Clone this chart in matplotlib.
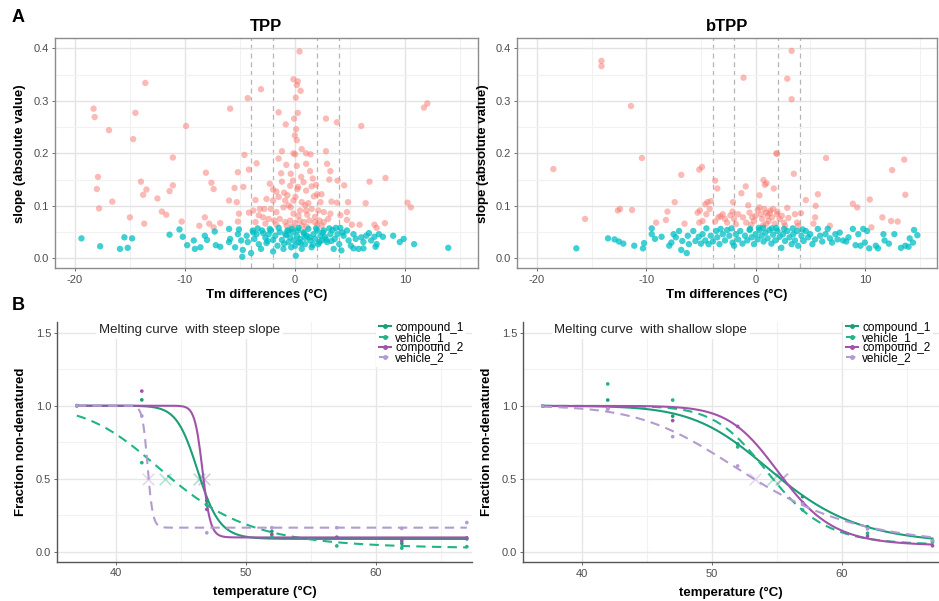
import numpy as np
import matplotlib.pyplot as plt
from matplotlib.lines import Line2D

plt.rcParams['font.family'] = ['Liberation Sans', 'DejaVu Sans']
plt.rcParams['axes.unicode_minus'] = False

# ---------------- Panel A: Tm difference vs |slope| ----------------
# TPP, slope above cutoff (red)
tpp_hi_x = [-18.3, -18.2, -17.9, -18.0, -17.8, -16.9, -16.6, -15.0, -14.7, -14.5, -14.0, -13.8, -13.6,
            -13.5, -13.7, -12.5, -12.1, -11.7, -11.4, -11.1, -11.1, -10.3, -9.9, -8.7, -8.1, -8.2, -7.8,
            -7.6, -7.4, -7.4, -6.8, -5.9, -6.0, -5.5, -5.3, -5.2, -5.1, -5.2, -4.6, -4.7, -4.3, -4.2, -4.2,
            -3.6, -3.5, -3.1, -3.8, -3.2,
            0.4, -0.15, 0.24, 0.15, 0.5, 0.06, 0.24, -0.09, -1.5, -0.85, 0.09, -0.03, 0.15, 0.6, 0.0, -0.15,
            1.0, 1.4, -1.2, -1.5, -0.8, 0.15, 1.0, 1.36, -1.27, -0.4, -1.2, -0.2, 0.55, -0.45, 0.27, 0.76,
            1.5, 1.9, 1.0, -2.3, -2.0, -1.7, -1.5, -0.7, 0.03, 0.6, 1.2, 2.0, 2.3, -2.6, -2.8, -2.2, -1.7,
            -1.06, -0.4, -0.15, 0.45, 1.0, 1.5, 2.1, 2.6, -3.3, -2.9, -2.4, -1.9, -1.4, -0.9, -0.45, 0.0,
            0.4, 0.8, 1.3, 1.76, 2.2, 2.6, 3.0, -3.6, -2.7, -1.7, -0.76, -0.3, 0.6, 1.06, 2.0, 2.4, 2.4,
            1.7, -0.15, -0.9, -2.0, 0.3, -0.6, 1.1, 1.8, 0.9, -1.0, 0.2, 1.6,
            2.8, 2.8, 2.9, 3.2, 3.1, 3.85, 3.8, 4.45, 3.3, 3.8, 4.8, 3.2, 4.1, 4.7, 4.7, 5.15, 5.85, 6.0,
            6.4, 6.75, 7.2, 7.4, 8.2, 8.15, 10.2, 10.5, 11.7, 12.0]
tpp_hi_y = [0.285, 0.269, 0.155, 0.132, 0.095, 0.244, 0.108, 0.078, 0.227, 0.277, 0.146, 0.121, 0.334,
            0.131, 0.066, 0.114, 0.089, 0.083, 0.128, 0.139, 0.192, 0.070, 0.252, 0.062, 0.163, 0.078, 0.066,
            0.144, 0.132, 0.059, 0.067, 0.285, 0.110, 0.134, 0.107, 0.164, 0.085, 0.070, 0.197, 0.136, 0.305,
            0.169, 0.087, 0.111, 0.181, 0.322, 0.091, 0.094,
            0.394, 0.341, 0.337, 0.330, 0.319, 0.306, 0.277, 0.266, 0.278, 0.255, 0.246, 0.234, 0.225, 0.208,
            0.198, 0.200, 0.200, 0.198, 0.204, 0.190, 0.178, 0.176, 0.180, 0.166, 0.162, 0.161, 0.146, 0.148,
            0.155, 0.138, 0.136, 0.145, 0.137, 0.140, 0.129, 0.142, 0.131, 0.127, 0.117, 0.120, 0.117, 0.107,
            0.105, 0.122, 0.107, 0.113, 0.094, 0.094, 0.088, 0.097, 0.097, 0.085, 0.091, 0.091, 0.094, 0.091,
            0.088, 0.082, 0.078, 0.075, 0.072, 0.075, 0.069, 0.072, 0.067, 0.072, 0.069, 0.072, 0.069, 0.072,
            0.069, 0.075, 0.069, 0.066, 0.064, 0.062, 0.060, 0.062, 0.060, 0.064, 0.062, 0.122, 0.118, 0.110,
            0.110, 0.110, 0.081, 0.101, 0.083, 0.079, 0.101, 0.125, 0.132, 0.152,
            0.266, 0.204, 0.180, 0.166, 0.150, 0.148, 0.259, 0.139, 0.108, 0.106, 0.107, 0.085, 0.082, 0.088,
            0.073, 0.064, 0.064, 0.252, 0.105, 0.146, 0.064, 0.058, 0.153, 0.067, 0.106, 0.097, 0.287, 0.295]
# TPP, slope below cutoff (teal)
tpp_lo_x = [-19.4, -17.7, -15.9, -15.5, -15.2, -14.8, -11.4, -10.5, -10.2, -9.8, -9.2, -9.1, -8.6, -8.2,
            -8.0, -7.3, -7.2, -6.8, -6.0, -6.0, -5.9, -5.45, -5.2, -5.1, -4.9, -4.8, -4.75, -4.4, -4.3, -4.0,
            -3.85, -3.7, -3.5, -3.3, -3.1, -3.0, -2.7, -2.6, -2.4, -2.2, -2.0, -2.0, -1.8, -1.6, -1.4, -1.2,
            -1.06, -0.9, -0.7, -0.6, -0.45, -0.36, -0.2, -0.1, 0.0, 0.06, 0.15, 0.24, 0.33, 0.45, 0.6, 0.76,
            0.9, 1.06, 1.2, 1.36, 1.5, 1.67, 1.8, 2.0, 2.1, 2.3, 2.4, 2.6, 2.7, 2.9, 3.2, 3.4, 3.5, 3.6, 3.85,
            4.0, 4.2, 4.4, 4.7, 4.85, 5.06, 5.3, 5.5, 5.76, 6.0, 6.2, 6.45, 6.7, 6.9, 7.2, 7.4, 7.6, 7.3, 6.2,
            5.3, 7.97, 8.9, 9.5, 9.85, 10.8, 13.9,
            -3.4, -2.9, -2.3, -1.5, -0.8, -0.3, 0.3, 0.8, 1.3, 1.9, 2.5, 3.1, 3.7, 4.3, -2.5, -1.0, 0.5, 1.6,
            2.8, 4.1, -3.8, -0.6, 0.9, 2.2, 3.3]
tpp_lo_y = [0.038, 0.023, 0.018, 0.040, 0.020, 0.038, 0.045, 0.055, 0.041, 0.025, 0.034, 0.018, 0.021,
            0.043, 0.035, 0.051, 0.025, 0.022, 0.056, 0.031, 0.037, 0.021, 0.046, 0.055, 0.034, 0.003, 0.016,
            0.043, 0.031, 0.010, 0.053, 0.037, 0.046, 0.027, 0.018, 0.053, 0.039, 0.029, 0.046, 0.053, 0.035,
            0.013, 0.043, 0.024, 0.050, 0.035, 0.018, 0.046, 0.053, 0.031, 0.040, 0.021, 0.050, 0.034, 0.024,
            0.005, 0.043, 0.053, 0.031, 0.037, 0.018, 0.050, 0.027, 0.043, 0.056, 0.034, 0.021, 0.046, 0.037,
            0.053, 0.027, 0.043, 0.034, 0.053, 0.041, 0.031, 0.046, 0.054, 0.018, 0.037, 0.046, 0.027, 0.015,
            0.043, 0.053, 0.034, 0.024, 0.046, 0.037, 0.018, 0.040, 0.031, 0.043, 0.048, 0.034, 0.041, 0.027,
            0.046, 0.022, 0.019, 0.019, 0.041, 0.043, 0.031, 0.037, 0.027, 0.020,
            0.057, 0.048, 0.056, 0.058, 0.044, 0.056, 0.058, 0.047, 0.040, 0.057, 0.049, 0.057, 0.058, 0.049,
            0.033, 0.028, 0.029, 0.026, 0.036, 0.058, 0.049, 0.052, 0.039, 0.031, 0.033]

# bTPP, slope above cutoff (red)
btpp_hi_x = [-18.5, -15.6, -14.1, -14.1, -11.4, -10.4, -12.6, -12.4, -11.3, -9.1, -8.2, -8.06, -7.4, -6.8,
             -6.5, -5.15, -4.9, -5.3, -5.1, -4.85, -4.6, -4.4, -4.2, -4.1, -4.5, -5.15, -3.7, -3.5, -3.7,
             -3.4, -3.0, -2.8, -2.6, -2.06, -2.1, -1.97, -1.6, -1.3, -1.1, -1.15, -0.9, -0.67, -0.85, -0.55,
             -0.3, -0.15, 0.0, 0.2, 0.36, 0.36, 0.5, 0.6, 0.73, 0.85, 1.0, 0.8, 0.97, 1.1, 1.2, 1.36, 1.5,
             1.67, 1.6, 1.76, 1.9, 1.97, 1.97, 2.2, 2.4, 2.6, 2.9, 2.9, 3.0, 3.3, 3.3, 3.5, 3.6, 3.8, 4.15,
             4.6, 5.3, 5.5, 5.7, 5.45, 6.45, 6.8, 8.9, 9.3, 10.45, 10.6, 11.6, 12.4, 12.5, 13.0, 13.6, 13.7,
             -2.3, -1.8, -0.4, 0.7, 1.3, 2.7, 3.9, -3.2, 1.0, 2.0]
btpp_hi_y = [0.170, 0.075, 0.376, 0.366, 0.290, 0.191, 0.091, 0.094, 0.092, 0.068, 0.073, 0.089, 0.107,
             0.159, 0.066, 0.169, 0.174, 0.087, 0.091, 0.071, 0.103, 0.107, 0.094, 0.109, 0.084, 0.068, 0.148,
             0.133, 0.070, 0.078, 0.084, 0.075, 0.068, 0.107, 0.089, 0.075, 0.084, 0.124, 0.344, 0.078, 0.137,
             0.101, 0.068, 0.087, 0.078, 0.071, 0.081, 0.092, 0.120, 0.097, 0.084, 0.075, 0.149, 0.140, 0.143,
             0.094, 0.087, 0.081, 0.071, 0.091, 0.078, 0.133, 0.094, 0.066, 0.200, 0.199, 0.084, 0.075, 0.081,
             0.068, 0.096, 0.342, 0.077, 0.303, 0.395, 0.161, 0.084, 0.068, 0.086, 0.111, 0.066, 0.100, 0.122,
             0.078, 0.191, 0.062, 0.104, 0.097, 0.112, 0.059, 0.078, 0.071, 0.168, 0.070, 0.188, 0.121,
             0.082, 0.065, 0.064, 0.063, 0.086, 0.062, 0.062, 0.080, 0.066, 0.089]
# bTPP, slope below cutoff (teal)
btpp_lo_x = [-16.4, -13.5, -12.9, -12.5, -12.1, -11.1, -10.2, -10.3, -9.5, -9.5, -9.2, -8.6, -7.9, -7.7,
             -7.5, -7.3, -7.0, -6.8, -6.7, -6.3, -6.2, -6.1, -5.7, -5.5, -5.2, -5.0, -4.85, -4.6, -4.5, -4.3,
             -4.1, -3.9, -3.6, -3.5, -3.3, -3.0, -2.8, -2.6, -2.4, -2.1, -1.97, -1.8, -1.6, -1.4, -1.2, -0.97,
             -0.76, -0.55, -0.36, -0.15, 0.0, 0.18, 0.36, 0.55, 0.73, 0.9, 1.1, 1.27, 1.45, 1.6, 1.8, 2.0, 2.2,
             2.36, 2.5, 2.7, 2.9, 3.1, 3.3, 3.45, 3.6, 3.8, 3.9, 4.2, 4.4, 4.6, 4.8, 5.0, 5.2, 5.45, 5.7, 5.9,
             6.1, 6.4, 6.6, 6.8, 7.0, 7.3, 7.5, 7.7, 8.0, 8.3, 8.5, 8.9, 9.15, 9.4, 9.6, 9.85, 10.0, 10.2, 10.4,
             11.0, 11.2, 11.7, 11.8, 12.2, 12.7, 13.3, 13.7, 14.0, 14.1, 14.4, 14.5, 14.8,
             -2.2, -0.5, 0.7, 1.5, 2.6, 3.4, 4.3, -3.2, 0.3, 1.9]
btpp_lo_y = [0.019, 0.038, 0.036, 0.032, 0.028, 0.024, 0.029, 0.019, 0.057, 0.046, 0.037, 0.041, 0.024,
             0.030, 0.046, 0.040, 0.052, 0.016, 0.033, 0.010, 0.043, 0.027, 0.052, 0.033, 0.041, 0.028, 0.046,
             0.034, 0.057, 0.027, 0.043, 0.032, 0.052, 0.040, 0.027, 0.046, 0.034, 0.054, 0.043, 0.030, 0.024,
             0.046, 0.036, 0.052, 0.028, 0.043, 0.034, 0.054, 0.040, 0.027, 0.046, 0.036, 0.054, 0.043, 0.032,
             0.049, 0.038, 0.054, 0.028, 0.045, 0.034, 0.052, 0.041, 0.020, 0.046, 0.033, 0.052, 0.040, 0.027,
             0.046, 0.034, 0.052, 0.024, 0.043, 0.033, 0.052, 0.040, 0.046, 0.027, 0.036, 0.056, 0.043, 0.032,
             0.046, 0.056, 0.038, 0.030, 0.046, 0.036, 0.049, 0.034, 0.032, 0.040, 0.056, 0.025, 0.046, 0.024,
             0.056, 0.030, 0.052, 0.019, 0.024, 0.019, 0.046, 0.034, 0.028, 0.046, 0.020, 0.024, 0.022, 0.038,
             0.030, 0.054, 0.044,
             0.057, 0.056, 0.058, 0.057, 0.056, 0.057, 0.055, 0.056, 0.058, 0.058]

tpp_cutoffs = [-4.05, -2.05, 1.95, 4.0]
btpp_cutoffs = [-3.9, -1.95, 2.05, 4.1]

# ---------------- Panel B: melting curves ----------------
temps = [37, 42, 47, 52, 57, 62, 67]
series_names = ['compound_1', 'vehicle_1', 'compound_2', 'vehicle_2']

steep_compound_1 = [1.0, 1.04, 0.35, 0.14, 0.10, 0.057, 0.088]
steep_vehicle_1 = [1.0, 0.61, 0.32, 0.105, 0.04, 0.025, 0.035]
steep_compound_2 = [1.0, 1.10, 0.29, 0.12, 0.095, 0.075, 0.095]
steep_vehicle_2 = [1.0, 0.93, 0.13, 0.165, 0.165, 0.16, 0.20]

shallow_compound_1 = [1.0, 1.04, 0.93, 0.74, 0.38, 0.175, 0.08]
shallow_vehicle_1 = [1.0, 1.15, 1.04, 0.72, 0.29, 0.13, 0.07]
shallow_compound_2 = [1.0, 0.98, 0.90, 0.86, 0.34, 0.11, 0.045]
shallow_vehicle_2 = [1.0, 0.98, 0.79, 0.59, 0.33, 0.16, 0.08]

# fitted melting curve parameters: inflection temp, slope, lower plateau
steep_fit_mid = [46.34, 44.15, 46.68, 42.45]
steep_fit_slope = [1.2, 0.305, 3.3, 5.0]
steep_fit_plateau = [0.088, 0.02, 0.098, 0.165]
steep_tm = [46.4, 43.8, 46.8, 42.45]

shallow_fit_mid = [55.0, 54.5, 55.35, 53.0]
shallow_fit_slope = [0.307, 0.46, 0.49, 0.227]
shallow_fit_plateau = [0.05, 0.05, 0.045, 0.03]
shallow_tm = [55.35, 54.74, 55.45, 53.33]

colors = ['#1b9e77', '#22b386', '#a352ab', '#b49ad2']
styles = ['-', (0, (4.5, 3)), '-', (0, (4.5, 3))]

W, H = 939, 601
fig = plt.figure(figsize=(W / 100, H / 100), dpi=100)


def add_ax(l, r, t, b):
    return fig.add_axes([l / W, 1 - b / H, (r - l) / W, (b - t) / H])


def scatter_panel(ax, hx, hy, lx, ly, cuts, title):
    ax.set_xlim(-21.8, 16.6)
    ax.set_ylim(-0.019, 0.419)
    ax.set_xticks([-20, -10, 0, 10])
    ax.set_xticks([-15, -5, 5, 15], minor=True)
    ax.set_yticks([0.0, 0.1, 0.2, 0.3, 0.4])
    ax.set_yticks([0.05, 0.15, 0.25, 0.35], minor=True)
    ax.grid(True, which='major', color='#e3e3e3', lw=1.0, zorder=0)
    ax.grid(True, which='minor', color='#f1f1f1', lw=0.8, zorder=0)
    for c in cuts:
        ax.axvline(c, color='#b5b5b5', ls=(0, (4, 3)), lw=0.9, zorder=1)
    ax.scatter(hx, hy, s=21, color='#F8766D', alpha=0.5, edgecolors='none', zorder=2)
    ax.scatter(lx, ly, s=21, color='#00BFC4', alpha=0.75, edgecolors='none', zorder=3)
    for sp in ax.spines.values():
        sp.set_color('#8c8c8c')
        sp.set_linewidth(1.0)
    ax.tick_params(which='major', length=2.5, width=0.6, color='#555555', labelsize=8,
                   labelcolor='#4d4d4d', pad=2)
    ax.tick_params(which='minor', length=0)
    ax.set_yticklabels(['0.0', '0.1', '0.2', '0.3', '0.4'])
    ax.set_xlabel('Tm differences (°C)', fontsize=9.5, fontweight='bold', labelpad=3)
    ax.set_ylabel('slope (absolute value)', fontsize=9.5, fontweight='bold', labelpad=5)
    ax.set_title(title, fontsize=12, fontweight='bold', pad=5)


ax1 = add_ax(55, 478, 38.3, 268.3)
scatter_panel(ax1, tpp_hi_x, tpp_hi_y, tpp_lo_x, tpp_lo_y, tpp_cutoffs, 'TPP')
ax2 = add_ax(517.3, 937, 38.3, 268.3)
scatter_panel(ax2, btpp_hi_x, btpp_hi_y, btpp_lo_x, btpp_lo_y, btpp_cutoffs, 'bTPP')


def melt(T, mid, k, pl):
    return pl + (1 - pl) / (1 + np.exp(k * mid * (T - mid) / T))


def curve_panel(ax, obs, mids, ks, pls, tms, xmax, title):
    ax.set_xlim(35.5, xmax)
    ax.set_ylim(-0.068, 1.575)
    ax.set_xticks([40, 50, 60])
    ax.set_xticks([45, 55, 65], minor=True)
    ax.set_yticks([0.0, 0.5, 1.0, 1.5])
    ax.set_yticks([0.25, 0.75, 1.25], minor=True)
    ax.grid(True, which='major', color='#e6e6e6', lw=1.0, zorder=0)
    ax.grid(True, which='minor', color='#f2f2f2', lw=0.8, zorder=0)
    T = np.linspace(temps[0], temps[-1], 400)
    for i in range(4):
        ax.plot(T, melt(T, mids[i], ks[i], pls[i]), color=colors[i], ls=styles[i], lw=1.5, zorder=3)
        ax.scatter(temps, obs[i], s=7, color=colors[i], zorder=4, edgecolors='none')
        ax.scatter([tms[i]], [0.5], marker='x', s=70, color=colors[i], alpha=0.35, lw=1.2, zorder=2)
    for s in ['top', 'right']:
        ax.spines[s].set_visible(False)
    for s in ['left', 'bottom']:
        ax.spines[s].set_color('#555555')
        ax.spines[s].set_linewidth(1.0)
    ax.tick_params(which='major', length=2.5, width=0.6, color='#555555', labelsize=8,
                   labelcolor='#4d4d4d', pad=2)
    ax.tick_params(which='minor', length=0)
    ax.set_xlabel('temperature (°C)', fontsize=9.5, fontweight='bold', labelpad=6)
    ax.set_ylabel('Fraction non-denatured', fontsize=9.5, fontweight='bold', labelpad=6)
    ax.text(0.1, 0.964, title, transform=ax.transAxes, fontsize=9.5, color='#222222', ha='left',
            va='center', zorder=5, bbox=dict(facecolor='white', edgecolor='none', pad=2))
    handles = [Line2D([0], [0], color=colors[i], ls=styles[i], lw=1.5, marker='o', markersize=2.5)
               for i in range(4)]
    leg = ax.legend(handles, series_names, loc='upper right', bbox_to_anchor=(1.0, 1.035),
                    fontsize=8.5, handlelength=1.0, handletextpad=0.4, labelspacing=-0.15,
                    borderpad=0.2, frameon=True, fancybox=False)
    leg.get_frame().set_edgecolor('none')
    leg.get_frame().set_facecolor('white')
    leg.get_frame().set_alpha(1)


ax3 = add_ax(57.3, 472, 321.7, 561.7)
curve_panel(ax3, [steep_compound_1, steep_vehicle_1, steep_compound_2, steep_vehicle_2],
            steep_fit_mid, steep_fit_slope, steep_fit_plateau, steep_tm, 67.4,
            'Melting curve  with steep slope')
ax4 = add_ax(523.3, 939, 321.7, 562.3)
curve_panel(ax4, [shallow_compound_1, shallow_vehicle_1, shallow_compound_2, shallow_vehicle_2],
            shallow_fit_mid, shallow_fit_slope, shallow_fit_plateau, shallow_tm, 67.5,
            'Melting curve  with shallow slope')
ax4.texts[0].set_x(0.075)

fig.text(12 / W, 1 - 17 / H, 'A', fontsize=13, fontweight='bold', va='center', ha='left')
fig.text(12 / W, 1 - 305 / H, 'B', fontsize=13, fontweight='bold', va='center', ha='left')

fig.savefig('out.png', dpi=100)
